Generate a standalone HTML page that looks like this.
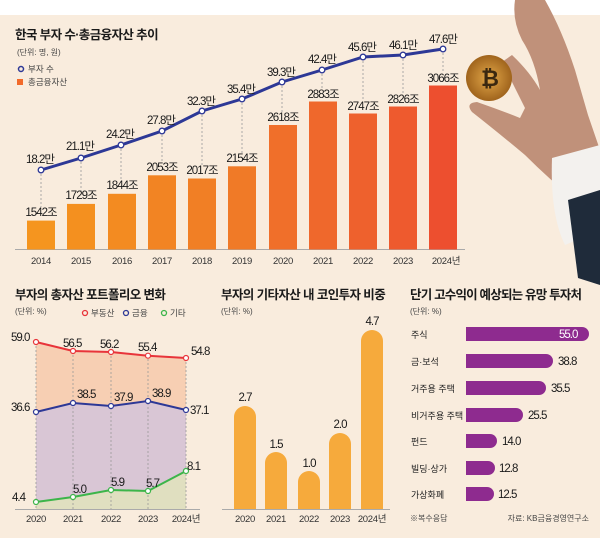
<!DOCTYPE html>
<html><head><meta charset="utf-8"><style>
html,body{margin:0;padding:0;background:#fff}
svg{display:block}
text{font-family:"Liberation Sans","Noto Sans CJK KR",sans-serif;fill:#222}
.t{font-weight:bold;font-size:12.5px;fill:#1a1a1a;letter-spacing:-0.6px}
.u{font-size:8px;fill:#444}
.v{font-size:11.5px;letter-spacing:-1px;fill:#1a1a1a}
.y{font-size:9.5px;fill:#333;letter-spacing:-0.3px}
.l{font-size:9px;fill:#222}
</style></head><body>
<svg width="600" height="538" viewBox="0 0 600 538" xmlns="http://www.w3.org/2000/svg">
<defs>
<radialGradient id="coin"><stop offset="0" stop-color="#e3a84a"/><stop offset="1" stop-color="#a0641c"/></radialGradient>
</defs>
<rect x="0" y="15" width="600" height="523" fill="#f9ecdd"/>
<!-- hand -->
<path d="M515 0 L545 0 Q562 30 575 70 L588 115 L600 150 L600 195 L575 200 Q550 180 525 155 Q495 130 472 112 Q465 103 477 102 Q500 110 520 118 L525 108 Q512 82 502 62 L512 55 Q530 72 540 90 Q535 60 522 40 Q512 20 515 0Z" fill="#c0917a"/>
<path d="M552 158 L600 145 L600 230 L565 245 Q550 215 552 158Z" fill="#f3f1ee"/>
<path d="M568 200 L600 190 L600 285 L578 278Z" fill="#1f2b3a"/>
<circle cx="489" cy="78" r="23" fill="url(#coin)"/>
<text x="481" y="86" style="font-size:22px;font-weight:bold;fill:#3b2810">₿</text>

<!-- top chart -->
<text x="15" y="39" class="t">한국 부자 수·총금융자산 추이</text>
<text x="17" y="55" class="u">(단위: 명, 원)</text>
<circle cx="21" cy="69" r="2.5" fill="none" stroke="#2d3896" stroke-width="1.5"/>
<text x="28" y="72" class="u" style="font-size:8.5px">부자 수</text>
<rect x="17" y="79" width="6" height="6" fill="#f26a2a"/>
<text x="28" y="85" class="u" style="font-size:8.5px">총금융자산</text>
<line x1="15" y1="249.5" x2="465" y2="249.5" stroke="#aaa" stroke-width="1"/>
<g>
<rect x="27" y="220.6" width="28" height="28.9" fill="#f5951f"/>
<rect x="67" y="203.9" width="28" height="45.6" fill="#f4901f"/>
<rect x="108" y="193.8" width="28" height="55.7" fill="#f38b21"/>
<rect x="148" y="175.3" width="28" height="74.2" fill="#f28423"/>
<rect x="188" y="178.5" width="28" height="71" fill="#f17f25"/>
<rect x="228" y="166.3" width="28" height="83.2" fill="#f07a27"/>
<rect x="269" y="125" width="28" height="124.5" fill="#f06f2a"/>
<rect x="309" y="101.5" width="28" height="148" fill="#ef682c"/>
<rect x="349" y="113.5" width="28" height="136" fill="#ee612d"/>
<rect x="389" y="106.5" width="28" height="143" fill="#ee5a2e"/>
<rect x="429" y="85.5" width="28" height="164" fill="#ed4f2f"/>
</g>
<g stroke="#999" stroke-dasharray="2,2" stroke-width="0.8">
<line x1="41" y1="170" x2="41" y2="207"/><line x1="81" y1="158" x2="81" y2="191"/><line x1="121" y1="145" x2="121" y2="181"/><line x1="162" y1="131" x2="162" y2="162"/><line x1="202" y1="111" x2="202" y2="165"/><line x1="242" y1="99" x2="242" y2="153"/><line x1="282" y1="82" x2="282" y2="112"/><line x1="322" y1="70" x2="322" y2="88"/><line x1="363" y1="57" x2="363" y2="100"/><line x1="403" y1="55" x2="403" y2="93"/><line x1="443" y1="49" x2="443" y2="72"/>
</g>
<polyline points="41,170 81,158 121,145 162,131 202,111 242,99 282,82 322,70 363,57 403,55 443,49" fill="none" stroke="#2d3896" stroke-width="3"/>
<g fill="#fff" stroke="#2d3896" stroke-width="1.3">
<circle cx="41" cy="170" r="2.8"/><circle cx="81" cy="158" r="2.8"/><circle cx="121" cy="145" r="2.8"/><circle cx="162" cy="131" r="2.8"/><circle cx="202" cy="111" r="2.8"/><circle cx="242" cy="99" r="2.8"/><circle cx="282" cy="82" r="2.8"/><circle cx="322" cy="70" r="2.8"/><circle cx="363" cy="57" r="2.8"/><circle cx="403" cy="55" r="2.8"/><circle cx="443" cy="49" r="2.8"/>
</g>
<g text-anchor="middle">
<text x="40" y="163" class="v">18.2만</text><text x="80" y="150" class="v">21.1만</text><text x="120" y="138" class="v">24.2만</text><text x="161" y="124" class="v">27.8만</text><text x="201" y="105" class="v">32.3만</text><text x="241" y="93" class="v">35.4만</text><text x="281" y="76" class="v">39.3만</text><text x="322" y="63" class="v">42.4만</text><text x="362" y="51" class="v">45.6만</text><text x="403" y="49" class="v">46.1만</text><text x="443" y="43" class="v">47.6만</text>
<text x="41" y="216" class="v">1542조</text><text x="81" y="199" class="v">1729조</text><text x="122" y="189" class="v">1844조</text><text x="162" y="171" class="v">2053조</text><text x="202" y="174" class="v">2017조</text><text x="242" y="162" class="v">2154조</text><text x="283" y="121" class="v">2618조</text><text x="323" y="98" class="v">2883조</text><text x="363" y="110" class="v">2747조</text><text x="403" y="103" class="v">2826조</text><text x="443" y="82" class="v">3066조</text>
</g>
<g text-anchor="middle">
<text x="41" y="264" class="y">2014</text><text x="81" y="264" class="y">2015</text><text x="122" y="264" class="y">2016</text><text x="162" y="264" class="y">2017</text><text x="202" y="264" class="y">2018</text><text x="242" y="264" class="y">2019</text><text x="283" y="264" class="y">2020</text><text x="323" y="264" class="y">2021</text><text x="363" y="264" class="y">2022</text><text x="403" y="264" class="y">2023</text><text x="446" y="264" class="y">2024년</text>
</g>

<!-- bottom left -->
<text x="15" y="299" class="t">부자의 총자산 포트폴리오 변화</text>
<text x="15" y="314" class="u">(단위: %)</text>
<circle cx="85" cy="313" r="2.5" fill="none" stroke="#e8343a" stroke-width="1.3"/><text x="91" y="316" class="u" style="font-size:8.5px">부동산</text>
<circle cx="126" cy="313" r="2.5" fill="none" stroke="#2d3896" stroke-width="1.3"/><text x="132" y="316" class="u" style="font-size:8.5px">금융</text>
<circle cx="164" cy="313" r="2.5" fill="none" stroke="#3cb54a" stroke-width="1.3"/><text x="170" y="316" class="u" style="font-size:8.5px">기타</text>
<polygon points="36,342 73,351 111,352 148,355.7 186,358 186,410 148,401 111,406 73,403 36,412" fill="#f7cfb3"/>
<polygon points="36,412 73,403 111,406 148,401 186,410 186,471 148,491 111,490 73,497 36,502" fill="#d9c6d5"/>
<polygon points="36,502 73,497 111,490 148,491 186,471 186,509 36,509" fill="#e0dfc0"/>
<g stroke="#999" stroke-dasharray="2,2" stroke-width="0.8"><line x1="36" y1="342" x2="36" y2="509"/><line x1="73" y1="351" x2="73" y2="509"/><line x1="111" y1="352" x2="111" y2="509"/><line x1="148" y1="355" x2="148" y2="509"/><line x1="186" y1="358" x2="186" y2="509"/></g>
<line x1="15" y1="509.5" x2="200" y2="509.5" stroke="#aaa"/>
<polyline points="36,342 73,351 111,352 148,355.7 186,358" fill="none" stroke="#e8343a" stroke-width="2"/>
<polyline points="36,412 73,403 111,406 148,401 186,410" fill="none" stroke="#2d3896" stroke-width="2"/>
<polyline points="36,502 73,497 111,490 148,491 186,471" fill="none" stroke="#3cb54a" stroke-width="2"/>
<g fill="#fff" stroke-width="1.2">
<g stroke="#e8343a"><circle cx="36" cy="342" r="2.5"/><circle cx="73" cy="351" r="2.5"/><circle cx="111" cy="352" r="2.5"/><circle cx="148" cy="355.7" r="2.5"/><circle cx="186" cy="358" r="2.5"/></g>
<g stroke="#2d3896"><circle cx="36" cy="412" r="2.5"/><circle cx="73" cy="403" r="2.5"/><circle cx="111" cy="406" r="2.5"/><circle cx="148" cy="401" r="2.5"/><circle cx="186" cy="410" r="2.5"/></g>
<g stroke="#3cb54a"><circle cx="36" cy="502" r="2.5"/><circle cx="73" cy="497" r="2.5"/><circle cx="111" cy="490" r="2.5"/><circle cx="148" cy="491" r="2.5"/><circle cx="186" cy="471" r="2.5"/></g>
</g>
<text x="11" y="341" class="v">59.0</text><text x="63" y="347" class="v">56.5</text><text x="100" y="348" class="v">56.2</text><text x="138" y="351" class="v">55.4</text><text x="191" y="355" class="v">54.8</text>
<text x="11" y="411" class="v">36.6</text><text x="77" y="398" class="v">38.5</text><text x="114" y="401" class="v">37.9</text><text x="152" y="397" class="v">38.9</text><text x="190" y="414" class="v">37.1</text>
<text x="12" y="501" class="v">4.4</text><text x="73" y="493" class="v">5.0</text><text x="111" y="486" class="v">5.9</text><text x="146" y="487" class="v">5.7</text><text x="187" y="470" class="v">8.1</text>
<g text-anchor="middle"><text x="36" y="522" class="y">2020</text><text x="73" y="522" class="y">2021</text><text x="111" y="522" class="y">2022</text><text x="148" y="522" class="y">2023</text><text x="186" y="522" class="y">2024년</text></g>

<!-- middle -->
<text x="221" y="299" class="t">부자의 기타자산 내 코인투자 비중</text>
<text x="221" y="314" class="u">(단위: %)</text>
<line x1="222" y1="509.5" x2="390" y2="509.5" stroke="#aaa"/>
<g fill="#f6aa3c">
<path d="M234 509 V417 a11 11 0 0 1 22 0 V509Z"/>
<path d="M265 509 V463 a11 11 0 0 1 22 0 V509Z"/>
<path d="M298 509 V482 a11 11 0 0 1 22 0 V509Z"/>
<path d="M329 509 V444 a11 11 0 0 1 22 0 V509Z"/>
<path d="M361 509 V341 a11 11 0 0 1 22 0 V509Z"/>
</g>
<g text-anchor="middle">
<text x="245" y="401" class="v">2.7</text><text x="276" y="448" class="v">1.5</text><text x="309" y="467" class="v">1.0</text><text x="340" y="428" class="v">2.0</text><text x="372" y="325" class="v">4.7</text>
<text x="245" y="522" class="y">2020</text><text x="276" y="522" class="y">2021</text><text x="309" y="522" class="y">2022</text><text x="340" y="522" class="y">2023</text><text x="372" y="522" class="y">2024년</text>
</g>

<!-- right -->
<text x="410" y="299" class="t" style="letter-spacing:-0.8px">단기 고수익이 예상되는 유망 투자처</text>
<text x="410" y="314" class="u">(단위: %)</text>
<g fill="#8e2b8f">
<path d="M466 327 H582 a7 7 0 0 1 0 14 H466Z"/>
<path d="M466 354 H546 a7 7 0 0 1 0 14 H466Z"/>
<path d="M466 381 H539 a7 7 0 0 1 0 14 H466Z"/>
<path d="M466 408 H516 a7 7 0 0 1 0 14 H466Z"/>
<path d="M466 434 H490 a7 7 0 0 1 0 14 H466Z"/>
<path d="M466 461 H488 a7 7 0 0 1 0 14 H466Z"/>
<path d="M466 487 H487 a7 7 0 0 1 0 14 H466Z"/>
</g>
<text x="411" y="338" class="l">주식</text><text x="411" y="365" class="l">금·보석</text><text x="411" y="392" class="l">거주용 주택</text><text x="411" y="419" class="l">비거주용 주택</text><text x="411" y="445" class="l">펀드</text><text x="411" y="472" class="l">빌딩·상가</text><text x="411" y="498" class="l">가상화폐</text>
<text x="559" y="338" class="v" style="fill:#fff">55.0</text>
<text x="558" y="365" class="v">38.8</text><text x="551" y="392" class="v">35.5</text><text x="528" y="419" class="v">25.5</text><text x="502" y="445" class="v">14.0</text><text x="499" y="472" class="v">12.8</text><text x="498" y="498" class="v">12.5</text>
<text x="410" y="521" class="u">※복수응답</text>
<text x="589" y="521" class="u" text-anchor="end">자료: KB금융경영연구소</text>
</svg>
</body></html>
